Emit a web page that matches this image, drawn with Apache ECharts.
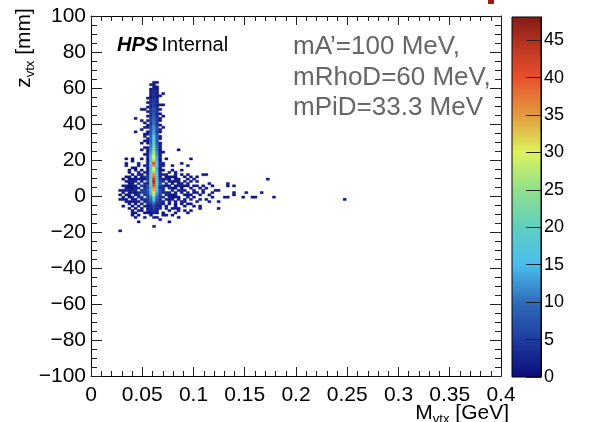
<!DOCTYPE html>
<html><head><meta charset="utf-8">
<script src="https://cdn.jsdelivr.net/npm/echarts@6/dist/echarts.min.js"></script>
<style>html,body{margin:0;padding:0;background:#fff}#c{width:616px;height:422px}</style>
</head><body><div id="c"></div>
<script>
// ---------- data ----------
const xTickLabels = ['0','0.05','0.1','0.15','0.2','0.25','0.3','0.35','0.4'];
const yTickLabels = ['\u2212100','\u221280','\u221260','\u221240','\u221220','0','20','40','60','80','100'];
const cbTickLabels = ['0','5','10','15','20','25','30','35','40','45'];
const paletteColors = ['#0c0c7c','#1e3c9e','#2f6cbc','#4bbdee','#5ecfbf','#8fdf8a','#ddf35c','#e29a40','#e8502c','#b03020','#681010'];
const infoLines = ['mA\u2019=100 MeV,','mRhoD=60 MeV,','mPiD=33.3 MeV'];

// column of the signal peak: x-bin low edges (GeV), rows = [z low edge (mm), counts per x-bin]
const colX = [0.054, 0.057, 0.060, 0.063, 0.066];
const colRows = [
 [62.5,0,0,1,1,0],[61.25,0,1,1,0,0],[60,0,0,1,1,0],[58.75,0,1,2,1,0],[57.5,0,1,2,1,0],
 [56.25,0,1,2,1,0],[55,0,1,3,2,1],[53.75,1,2,3,2,0],[52.5,0,2,4,2,0],[51.25,1,2,4,2,0],
 [50,0,3,5,2,1],[48.75,1,3,5,3,0],[47.5,0,3,6,3,1],[46.25,1,4,6,3,0],[45,0,4,7,3,1],
 [43.75,1,4,8,4,0],[42.5,0,5,8,4,1],[41.25,1,5,9,4,1],[40,0,5,10,5,0],[38.75,1,6,11,5,1],
 [37.5,1,6,12,6,0],[36.25,0,7,12,6,1],[35,1,7,13,6,1],[33.75,1,8,14,7,0],[32.5,0,8,15,7,1],
 [31.25,1,9,16,8,1],[30,1,9,17,8,0],[28.75,1,10,19,9,1],[27.5,0,10,20,9,1],[26.25,1,11,22,10,1],
 [25,1,12,24,11,1],[23.75,1,13,26,12,1],[22.5,1,14,27,12,1],[21.25,2,15,30,13,1],[20,1,15,29,14,2],
 [18.75,2,17,33,15,1],[17.5,1,20,42,17,2],[16.25,2,19,38,16,1],[15,1,16,31,14,2],[13.75,2,16,30,14,1],
 [12.5,1,17,33,15,2],[11.25,2,18,36,16,2],[10,2,19,38,17,1],[8.75,2,21,43,18,2],[7.5,3,22,47,19,2],
 [6.25,2,21,44,18,3],[5,3,20,40,17,2],[3.75,2,18,36,16,3],[2.5,3,17,34,15,2],[1.25,2,16,31,14,2],
 [0,2,14,28,12,2],[-1.25,2,11,22,10,2],[-2.5,1,9,17,8,1],[-3.75,2,7,13,6,1],[-5,1,5,9,4,1],
 [-6.25,1,3,6,3,1],[-7.5,0,2,4,2,1],[-8.75,1,1,3,1,0],[-10,0,1,2,1,0]
];

// scattered entries around the peak: [M_vtx (GeV), z_vtx (mm), entries]
const scatterCells = [
 [0.034,20,1],[0.041,20.5,1],[0.098,20,1],[0.072,21,1],
 [0.033,18.5,1],[0.041,19,1],[0.047,18.5,1],
 [0.071,17,1],[0.045,17,1],[0.052,17.3,2],
 [0.094,16.3,1],[0.040,16,1],
 [0.038,14.5,1],[0.044,14.5,1],[0.050,14.8,1],[0.069,14.5,1],[0.087,14,1],
 [0.036,13,1],[0.046,13.2,2],[0.053,13,2],[0.076,13,1],[0.081,12.8,1],
 [0.040,12,1],[0.049,12,1],[0.070,12,2],[0.073,12,1],[0.083,11.5,1],[0.110,11.7,1],[0.113,11.7,1],
 [0.035,10.8,1],[0.043,11,1],[0.051,11,2],[0.072,10.8,1],[0.075,11,1],[0.090,10.8,1],[0.104,11,1],
 [0.038,10,1],[0.045,9.8,1],[0.048,10,2],[0.053,10,3],[0.070,9.8,2],[0.079,10,1],[0.086,9.8,1],[0.097,10,1],
 [0.031,8.8,1],[0.040,9,1],[0.046,8.8,2],[0.051,9,2],[0.072,9,2],[0.082,9,1],[0.093,8.8,1],[0.171,8.9,1],
 [0.034,7.8,1],[0.043,8,2],[0.049,8,2],[0.070,8,3],[0.076,7.8,1],[0.085,8,1],[0.090,7.8,1],[0.103,8,1],
 [0.036,6.8,1],[0.040,7,1],[0.046,7,2],[0.051,7,3],[0.073,7,2],[0.080,6.8,1],[0.088,7,1],[0.095,7,1],[0.134,7,1],
 [0.030,5.8,1],[0.038,6,1],[0.044,6,2],[0.048,5.8,2],[0.052,6,3],[0.070,6,3],[0.077,5.8,2],[0.084,6,1],[0.091,6,1],[0.100,5.8,1],[0.108,6,1],[0.132,6,1],
 [0.033,5,1],[0.041,5,2],[0.046,4.8,2],[0.050,5,3],[0.072,5,2],[0.079,4.8,1],[0.086,5,2],[0.094,5,1],[0.117,5,1],[0.139,5,1],
 [0.035,3.8,1],[0.039,4,1],[0.043,4,2],[0.047,3.8,2],[0.051,4,4],[0.069,4,4],[0.075,3.8,2],[0.082,4,1],[0.089,4,1],[0.097,3.8,1],[0.105,4,1],[0.112,4,1],
 [0.032,3,1],[0.037,2.8,1],[0.042,3,2],[0.048,3,3],[0.052,3,4],[0.071,3,3],[0.078,2.8,2],[0.085,3,1],[0.092,3,1],[0.100,2.8,1],[0.124,3,1],
 [0.139,2.4,1],[0.152,2.4,1],[0.165,2.4,1],
 [0.036,1.5,1],[0.040,1.5,2],[0.045,1.3,2],[0.049,1.5,3],[0.053,1.5,4],[0.070,1.5,3],[0.074,1.3,2],[0.081,1.5,2],[0.087,1.5,1],[0.095,1.3,1],[0.103,1.5,1],[0.110,1.5,1],[0.118,1.3,1],
 [0.034,0.5,1],[0.038,0.3,1],[0.043,0.5,2],[0.047,0.5,3],[0.051,0.5,4],[0.072,0.5,3],[0.077,0.3,2],[0.083,0.5,1],[0.090,0.5,1],[0.098,0.3,1],[0.106,0.5,1],[0.138,0.5,1],
 [0.117,-0.4,1],[0.131,-0.4,1],[0.147,-0.4,1],[0.158,-0.4,1],[0.161,-0.6,1],[0.179,-0.4,1],
 [0.031,-1,1],[0.037,-1,1],[0.041,-1.1,2],[0.046,-1,2],[0.050,-1,3],[0.070,-1,3],[0.075,-1.1,2],[0.080,-1,1],[0.086,-1,1],[0.093,-1.1,1],[0.101,-1,1],[0.133,-1,1],
 [0.246,-2.2,1],[0.035,-2.2,1],[0.044,-2.3,1],[0.048,-2.2,2],[0.052,-2.2,3],[0.073,-2.2,2],[0.079,-2.3,1],[0.085,-2.2,1],[0.096,-2.2,1],[0.124,-3,1],
 [0.033,-3.5,1],[0.039,-3.5,1],[0.046,-3.5,2],[0.051,-3.6,2],[0.071,-3.5,2],[0.077,-3.5,1],[0.083,-3.6,1],[0.090,-3.5,1],[0.104,-3.5,1],[0.114,-3.6,1],
 [0.037,-4.7,1],[0.042,-4.7,1],[0.049,-4.7,2],[0.070,-4.7,2],[0.076,-4.7,1],[0.088,-4.7,1],[0.095,-4.7,1],
 [0.030,-5.7,1],[0.040,-5.7,1],[0.047,-5.8,1],[0.052,-5.7,2],[0.074,-5.7,1],[0.081,-5.8,1],[0.099,-5.7,1],[0.107,-5.8,1],
 [0.036,-6.8,1],[0.044,-6.8,1],[0.050,-7,1],[0.072,-6.8,1],[0.078,-7,1],[0.086,-6.8,1],[0.105,-6.8,1],[0.123,-7,1],
 [0.041,-8,1],[0.048,-8,1],[0.075,-8.1,1],[0.092,-8,1],
 [0.039,-9,1],[0.044,-9.2,1],[0.051,-9,1],[0.071,-9.1,1],[0.082,-9,1],[0.095,-9,1],
 [0.040,-10.3,1],[0.047,-10.2,1],[0.070,-10.4,1],[0.079,-10.3,1],
 [0.051,-11.7,1],[0.084,-11.7,1],[0.068,-12.8,1],[0.047,-14,1],[0.075,-14.2,1],
 [0.062,-17,1],[0.029,-19.3,1],
 [0.053,47.8,1],[0.050,47.8,1],[0.0445,43.3,1],[0.048,42,1],[0.051,40,1],[0.0525,37.8,1],[0.048,36.7,1],
 [0.0445,35.7,1],[0.051,34,1],[0.0525,31,1],[0.050,29,1],[0.0525,27,1],[0.049,25,1],[0.0525,23,1],
 [0.050,21,1],[0.0525,32.5,1],[0.0705,57,1],[0.069,24,1],[0.070,17.5,1],[0.069,50,1],[0.070,44,1],
 [0.070,38,1],[0.085,25.5,1],[0.076,13.5,1],[0.083,11,1],[0.0946,16.3,1],
 [0.055,11,2],[0.055,9,3],[0.055,7.5,3],[0.055,6,4],[0.055,4.5,4],[0.055,3,5],[0.055,1.8,4],[0.055,0.5,4],
 [0.055,-1,3],[0.055,-2.3,3],[0.055,-3.6,2],[0.055,-5,2],[0.055,-6.3,1],[0.055,-8,1],
 [0.067,11,1],[0.067,9.5,2],[0.067,8,3],[0.067,6.5,3],[0.067,5,4],[0.067,3.5,4],[0.067,2,4],[0.067,0.7,3],
 [0.067,-0.6,3],[0.067,-2,2],[0.067,-3.3,2],[0.067,-4.6,2],[0.067,-6,1],[0.067,-7.5,1],
 [0.058,-11,1],[0.064,-12,1],
 [0.046,11.8,1],[0.043,9.5,1],[0.037,8.2,1],[0.040,3.3,1],[0.044,2.3,1],[0.050,2.3,2],[0.045,-0.2,2],
 [0.040,-0.2,1],[0.048,-1,2],[0.043,-3.5,1],[0.036,-3,1],[0.045,-5.5,1],[0.032,-1.8,1],[0.028,3,1],
 [0.029,0.5,1],[0.027,-2.5,1],
 [0.076,9,1],[0.079,7.8,1],[0.074,6.8,2],[0.082,5.3,1],[0.076,4.6,2],[0.080,3.3,1],[0.088,2.3,1],
 [0.077,1.5,2],[0.080,0.5,1],[0.093,0.5,1],[0.083,-0.5,1],[0.090,-1.8,1],[0.076,-2.5,1],[0.081,-4.5,1],
 [0.087,-3.4,1],[0.098,-4.6,1],[0.092,-6,1],[0.099,2.2,1],[0.107,1.2,1],[0.112,-1.8,1],[0.108,3.3,1],
 [0.115,6.5,1],[0.120,3.5,1],[0.098,7.5,1],[0.101,9.5,1],[0.093,12.3,1],[0.087,11.5,1],[0.079,14.5,1],
 [0.0375,9.4,1],[0.0495,9.4,1],[0.0735,9.4,1],[0.0825,8.1,1],[0.0405,8.1,1],[0.0465,6.9,1],
 [0.0855,6.9,1],[0.0345,5.6,1],[0.0375,4.4,1],[0.0825,4.4,1],[0.0885,5.6,1],[0.0345,3.1,1],
 [0.0885,3.1,1],[0.0315,1.9,1],[0.0615,-11.9,1],[0.0945,1.9,1],[0.0315,-0.6,1],[0.0945,-0.6,1],
 [0.0345,-1.9,1],[0.0405,-1.9,1],[0.0915,-3.1,1],[0.0375,-4.4,1],[0.0825,-6.9,1],[0.0465,-8.1,1],
 [0.0855,-8.1,1],[0.0555,-9.4,1],[0.0735,-10.6,1],[0.0435,-11.9,1],[0.1035,5.6,1],[0.1065,-1.9,1],
 [0.0975,-8.1,1],[0.1155,0.6,1],[0.0435,15.6,1],[0.0345,16.9,1],[0.0795,16.9,1],[0.0885,18.1,1]
];

// ---------- binning ----------
const DX = 0.003, DZ = 1.25;
const cellMap = new Map();
function addCell(x, z, n) {
  const i = Math.floor(x / DX + 1e-6), j = Math.floor(z / DZ + 1e-6);
  const k = i + ',' + j;
  cellMap.set(k, (cellMap.get(k) || 0) + n);
}
colRows.forEach(r => colX.forEach((x, ci) => { if (r[ci + 1]) addCell(x + DX / 2, r[0] + DZ / 2, r[ci + 1]); }));
scatterCells.forEach(c => addCell(c[0], c[1], c[2]));
const heatData = [];
cellMap.forEach((n, k) => { const [i, j] = k.split(',').map(Number); heatData.push([i * DX, j * DZ, n]); });

// ---------- chart ----------
const FONT = '"Liberation Sans", Arial, Helvetica, sans-serif';
const CB_MAX = 48.1;
const chart = echarts.init(document.getElementById('c'), null, {renderer: 'canvas'});

const tickStyle = {color: '#222', width: 1};
function xAxisCfg(pos, showLabel) {
  return {
    gridIndex: 0, type: 'value', min: 0, max: 0.4, interval: 0.05, position: pos,
    axisLine: {show: true, onZero: false, lineStyle: {color: '#000', width: 1}},
    axisTick: {show: true, inside: true, length: 9, lineStyle: tickStyle},
    minorTick: {show: true, splitNumber: 5, length: 5, lineStyle: tickStyle},
    splitLine: {show: false}, minorSplitLine: {show: false},
    axisLabel: {show: showLabel, fontSize: 21, color: '#000', fontFamily: FONT, margin: 9,
      showMinLabel: true, showMaxLabel: true,
      formatter: v => xTickLabels[Math.round(v / 0.05)] ?? ''}
  };
}
function yAxisCfg(pos, showLabel) {
  return {
    gridIndex: 0, type: 'value', min: -100, max: 100, interval: 20, position: pos,
    axisLine: {show: true, onZero: false, lineStyle: {color: '#000', width: 1}},
    axisTick: {show: true, inside: true, length: 11, lineStyle: tickStyle},
    minorTick: {show: true, splitNumber: 4, length: 6, lineStyle: tickStyle},
    splitLine: {show: false}, minorSplitLine: {show: false},
    axisLabel: {show: showLabel, fontSize: 21, color: '#000', fontFamily: FONT, margin: 5,
      padding: [5, 0, 0, 0],
      showMinLabel: true, showMaxLabel: true,
      formatter: v => yTickLabels[Math.round((v + 100) / 20)] ?? ''}
  };
}

const gradStops = paletteColors.slice(0, 10).map((c, i) => ({offset: (i * 5) / CB_MAX, color: c}));
gradStops.push({offset: 1, color: '#7f1c16'});

const option = {
  animation: false,
  backgroundColor: '#fff',
  grid: [
    {left: 91, top: 16, width: 410, height: 360, show: false},
    {left: 512, top: 17, width: 29, height: 360, show: false}
  ],
  xAxis: [
    xAxisCfg('bottom', true),
    xAxisCfg('top', false),
    {gridIndex: 1, type: 'value', min: 0, max: 1, show: false}
  ],
  yAxis: [
    yAxisCfg('left', true),
    yAxisCfg('right', false),
    {gridIndex: 1, type: 'value', min: 0, max: CB_MAX, interval: 5, position: 'right',
     axisLine: {show: true, onZero: false, lineStyle: {color: '#000', width: 1}},
     axisTick: {show: true, inside: true, length: 15, lineStyle: tickStyle},
     splitLine: {show: false},
     axisLabel: {fontSize: 18, color: '#000', fontFamily: FONT, margin: 3, showMaxLabel: true,
       padding: [5, 0, 0, 0],
       formatter: v => { const r = Math.round(v / 5); return Math.abs(v - r * 5) < 1e-6 ? (cbTickLabels[r] ?? '') : ''; }},
     z: 5}
  ],
  visualMap: {
    type: 'continuous', show: false, seriesIndex: 0, dimension: 2,
    min: 0, max: 50, inRange: {color: paletteColors}
  },
  series: [
    {
      type: 'custom', coordinateSystem: 'cartesian2d', xAxisIndex: 0, yAxisIndex: 0,
      data: heatData, encode: {x: 0, y: 1},
      renderItem: (params, api) => {
        const x0 = api.value(0), z0 = api.value(1);
        const a = api.coord([x0, z0]), b = api.coord([x0 + DX, z0 + DZ]);
        const c = api.visual('color');
        return {type: 'rect', shape: {x: a[0], y: b[1], width: b[0] - a[0], height: a[1] - b[1]},
                style: {fill: c, stroke: c, lineWidth: 0.4}};
      }
    },
    {
      type: 'custom', coordinateSystem: 'cartesian2d', xAxisIndex: 2, yAxisIndex: 2,
      data: [[0, CB_MAX]], z: 1,
      renderItem: (params, api) => {
        const a = api.coord([0, 0]), b = api.coord([1, api.value(1)]);
        return {type: 'rect', shape: {x: a[0], y: b[1], width: b[0] - a[0], height: a[1] - b[1]},
                style: {fill: new echarts.graphic.LinearGradient(0, 1, 0, 0, gradStops), stroke: '#000', lineWidth: 1}};
      }
    }
  ],
  graphic: [
    {type: 'text', x: 509, y: 413, z: 10,
     style: {text: '{m|M}{s|vtx}{m| [GeV]}', align: 'right', verticalAlign: 'middle',
       rich: {m: {fontSize: 21, fontFamily: FONT, fill: '#000', lineHeight: 26},
              s: {fontSize: 13, fontFamily: FONT, fill: '#000', lineHeight: 14, verticalAlign: 'bottom'}}}},
    {type: 'text', x: 24, y: 48, rotation: Math.PI / 2, z: 10,
     style: {text: '{m|z}{s|vtx}{m| [mm]}', align: 'center', verticalAlign: 'middle',
       rich: {m: {fontSize: 21, fontFamily: FONT, fill: '#000', lineHeight: 26},
              s: {fontSize: 13, fontFamily: FONT, fill: '#000', lineHeight: 14, verticalAlign: 'bottom'}}}},
    {type: 'text', x: 117, y: 45, z: 10,
     style: {text: '{b|HPS} {n|Internal}', align: 'left', verticalAlign: 'middle',
       rich: {b: {fontSize: 20, fontFamily: FONT, fontWeight: 'bold', fontStyle: 'italic', fill: '#000'},
              n: {fontSize: 20, fontFamily: FONT, fill: '#000'}}}},
    {type: 'text', x: 293, y: 32, z: 10,
     style: {text: infoLines.join('\n'), fontSize: 26, lineHeight: 30.5, fontFamily: FONT, fill: '#666666',
       align: 'left', verticalAlign: 'top'}},
    {type: 'rect', x: 488, y: 0, z: 10, shape: {width: 6, height: 4}, style: {fill: '#a01818'}}
  ]
};
chart.setOption(option);
</script></body></html>
